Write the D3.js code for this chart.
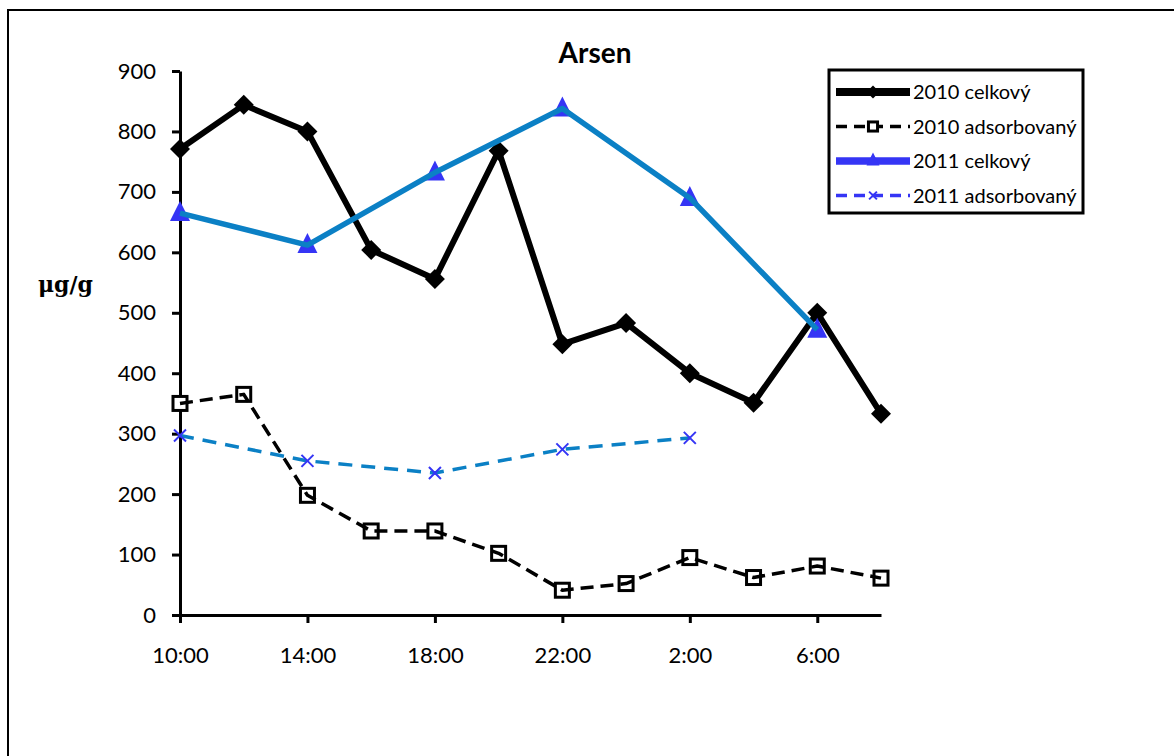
<!DOCTYPE html>
<html>
<head>
<meta charset="utf-8">
<script src="https://cdn.jsdelivr.net/npm/d3@7"></script>
<style>
  body { margin: 0; background: #fff; }
  svg { display: block; font-family: Lato, "Open Sans", sans-serif; }
</style>
</head>
<body>
<svg width="1174" height="756"></svg>
<script>
// chart data
const hours = ["10:00", "12:00", "14:00", "16:00", "18:00", "20:00", "22:00", "24:00", "2:00", "4:00", "6:00", "8:00"];
const tickHours = ["10:00", "14:00", "18:00", "22:00", "2:00", "6:00"];
const yTicks = [0, 100, 200, 300, 400, 500, 600, 700, 800, 900];

const celk2010 = [771, 844, 800, 604, 556, 768, 448, 483, 400, 351, 500, 333];
const ads2010 = [350, 365, 198, 139, 139, 102, 41, 52, 95, 62, 81, 61];
const celk2011 = [665, null, 612, null, 732, null, 838, null, 690, null, 472, null];
const ads2011 = [297, null, 255, null, 235, null, 274, null, 293, null, null, null];

const seriesNames = ["2010 celkový", "2010 adsorbovaný", "2011 celkový", "2011 adsorbovaný"];

const svg = d3.select("svg");

// outer frame (right and bottom edges fall outside the picture)
svg.append("rect")
  .attr("x", 8).attr("y", 10)
  .attr("width", 1300).attr("height", 900)
  .attr("fill", "none").attr("stroke", "#000").attr("stroke-width", 2);

const x = d3.scalePoint().domain(hours).range([180, 881]);
const y = d3.scaleLinear().domain([0, 900]).range([615, 71]);

// axes
const yAxis = svg.append("g")
  .attr("transform", "translate(180,0)")
  .call(d3.axisLeft(y).tickValues(yTicks).tickSize(8).tickSizeOuter(0).tickPadding(16));

const xAxis = svg.append("g")
  .attr("transform", "translate(0,615)")
  .call(d3.axisBottom(x).tickValues(tickHours).tickSize(8).tickSizeOuter(0).tickPadding(24));

[xAxis, yAxis].forEach(g => {
  g.select(".domain").attr("stroke-width", 3);
  g.selectAll(".tick line").attr("stroke-width", 3);
  g.selectAll(".tick text").attr("font-size", 22).attr("font-family", "Lato, sans-serif").attr("fill", "#000");
});

// title and unit
svg.append("text")
  .attr("x", 595).attr("y", 63)
  .attr("text-anchor", "middle")
  .attr("font-size", 28).attr("font-weight", "bold")
  .text("Arsen");

svg.append("text")
  .attr("x", 38).attr("y", 292)
  .attr("font-size", 22).attr("font-weight", "bold")
  .attr("font-family", "'DejaVu Serif', serif")
  .text("μg/g");

// marker drawers
function diamond(g, cx, cy, s) {
  g.append("path")
    .attr("d", `M${cx},${cy - s}L${cx + s},${cy}L${cx},${cy + s}L${cx - s},${cy}Z`)
    .attr("fill", "#000");
}
function square(g, cx, cy, s) {
  g.append("rect")
    .attr("x", cx - s).attr("y", cy - s)
    .attr("width", 2 * s).attr("height", 2 * s)
    .attr("fill", "#fff").attr("stroke", "#000").attr("stroke-width", 3);
}
function triangle(g, cx, cy, s) {
  g.append("path")
    .attr("d", `M${cx},${cy - s - 2}L${cx + s},${cy + s - 2}L${cx - s},${cy + s - 2}Z`)
    .attr("fill", "#3535f5");
}
function cross(g, cx, cy, s) {
  g.append("path")
    .attr("d", `M${cx - s},${cy - s}L${cx + s},${cy + s}M${cx - s},${cy + s}L${cx + s},${cy - s}`)
    .attr("stroke", "#3535f5").attr("stroke-width", 2).attr("fill", "none");
}

const series = [
  { name: seriesNames[0], values: celk2010, color: "#000", width: 6, dash: null, marker: diamond, size: 10, markersFirst: false },
  { name: seriesNames[1], values: ads2010, color: "#000", width: 3.5, dash: "13,7", marker: square, size: 7, markersFirst: true },
  { name: seriesNames[2], values: celk2011, color: "#0b80c5", width: 5.5, dash: null, marker: triangle, size: 10, markersFirst: true },
  { name: seriesNames[3], values: ads2011, color: "#0b80c5", width: 3.5, dash: "14,9", marker: cross, size: 6, markersFirst: false }
];

const line = d3.line().x(d => x(d.h)).y(d => y(d.v));

series.forEach(s => {
  const pts = hours.map((h, i) => ({ h, v: s.values[i] })).filter(d => d.v != null);
  const g = svg.append("g");
  const drawLine = () => g.append("path")
    .datum(pts)
    .attr("d", line)
    .attr("fill", "none")
    .attr("stroke", s.color)
    .attr("stroke-width", s.width)
    .attr("stroke-linejoin", "round")
    .attr("stroke-dasharray", s.dash);
  const drawMarkers = () => pts.forEach(d => s.marker(g, x(d.h), y(d.v), s.size));
  if (s.markersFirst) { drawMarkers(); drawLine(); } else { drawLine(); drawMarkers(); }
});

// legend
const legend = svg.append("g");
legend.append("rect")
  .attr("x", 829).attr("y", 70)
  .attr("width", 254).attr("height", 143)
  .attr("fill", "#fff").attr("stroke", "#000").attr("stroke-width", 3);

series.forEach((s, i) => {
  const ly = 92 + i * 34.5;
  const g = legend.append("g");
  g.append("line")
    .attr("x1", 836).attr("x2", 910)
    .attr("y1", ly).attr("y2", ly)
    .attr("stroke", s.color === "#000" ? "#000" : "#3535f5")
    .attr("stroke-width", s.width + (s.dash ? 0 : 2))
    .attr("stroke-dasharray", s.dash ? "11,7" : null);
  s.marker(g, 873, ly, s.size * 0.65);
  g.append("text")
    .attr("x", 913).attr("y", ly)
    .attr("dy", "0.35em")
    .attr("font-size", 20)
    .text(s.name);
});
</script>
</body>
</html>
